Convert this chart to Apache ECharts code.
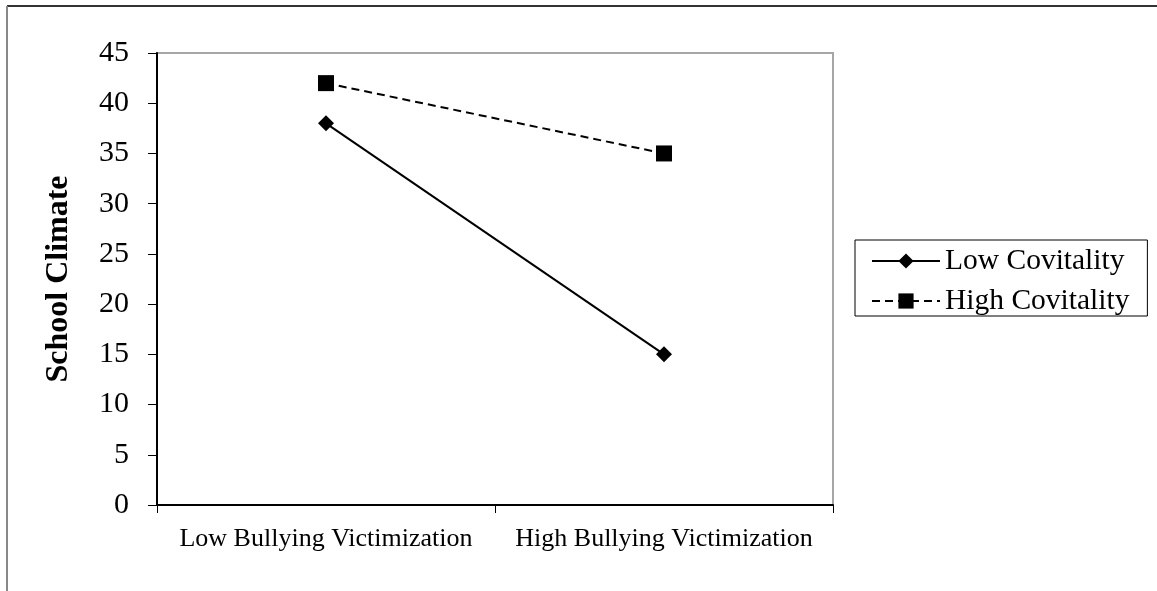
<!DOCTYPE html>
<html>
<head>
    <meta charset="utf-8">
    <script src="https://cdn.jsdelivr.net/npm/echarts@6/dist/echarts.min.js"></script>
    <style>
        html, body { margin: 0; padding: 0; background: #fff; }
        #main { width: 1157px; height: 591px; }
    </style>
</head>
<body>
    <div id="main"></div>
    <script type="text/javascript">
        var categories = ['Low Bullying Victimization', 'High Bullying Victimization'];
        var lowCovitality = [38, 15];
        var highCovitality = [42, 35];
        var seriesNames = ['Low Covitality', 'High Covitality'];

        var font = 'Liberation Serif, Times New Roman, serif';
        var myChart = echarts.init(document.getElementById('main'));

        myChart.setOption({
            backgroundColor: '#fff',
            animation: false,
            graphic: [
                { type: 'line', shape: { x1: 7, y1: 6, x2: 1157, y2: 6 }, style: { stroke: '#333', lineWidth: 2 } },
                { type: 'line', shape: { x1: 7, y1: 6, x2: 7, y2: 591 }, style: { stroke: '#888', lineWidth: 2 } }
            ],
            grid: {
                left: 157, top: 53, right: 324, bottom: 86,
                show: true, borderColor: '#a6a6a6', borderWidth: 2
            },
            legend: {
                data: seriesNames,
                orient: 'vertical',
                left: 855, top: 240,
                padding: [6, 18, 0, 16],
                itemGap: 10,
                itemWidth: 68, itemHeight: 19,
                borderColor: '#000', borderWidth: 1,
                textStyle: { fontFamily: font, fontSize: 29.5, color: '#000' }
            },
            xAxis: {
                type: 'category',
                data: categories,
                axisLine: { lineStyle: { color: '#000', width: 2 } },
                axisTick: { show: true, length: 8, lineStyle: { color: '#000' } },
                axisLabel: { interval: 0, fontFamily: font, fontSize: 26, color: '#000', margin: 21 }
            },
            yAxis: {
                type: 'value',
                min: 0, max: 45, interval: 5,
                name: 'School Climate',
                nameLocation: 'middle',
                nameGap: 82,
                nameTextStyle: { fontFamily: font, fontSize: 32, fontWeight: 'bold', color: '#000' },
                splitLine: { show: false },
                axisLine: { show: true, lineStyle: { color: '#000', width: 2 } },
                axisTick: { show: true, length: 9, lineStyle: { color: '#000' } },
                axisLabel: { fontFamily: font, fontSize: 30, color: '#000', margin: 28 }
            },
            series: [
                {
                    name: seriesNames[0],
                    type: 'line',
                    data: lowCovitality,
                    symbol: 'diamond', symbolSize: 16,
                    lineStyle: { color: '#000', width: 2 },
                    itemStyle: { color: '#000' }
                },
                {
                    name: seriesNames[1],
                    type: 'line',
                    data: highCovitality,
                    symbol: 'rect', symbolSize: 16,
                    lineStyle: { color: '#000', width: 2, type: [8, 5] },
                    itemStyle: { color: '#000' }
                }
            ]
        });
    </script>
</body>
</html>
